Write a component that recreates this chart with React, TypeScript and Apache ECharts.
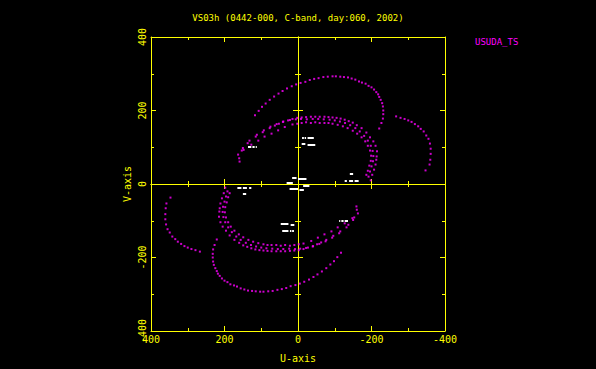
import React, { useEffect, useRef } from "react";
import * as echarts from "echarts";

const TITLE = "VS03h (0442-000, C-band, day:060, 2002)";
const LEGEND = "USUDA_TS";
const X_NAME = "U-axis";
const Y_NAME = "V-axis";
const AXIS_MIN = -400;
const AXIS_MAX = 400;
const LABEL_STEP = 200;

// Upper halves of the (u, v) tracks; the conjugate (-u, -v) points are added below.
const trackA: number[][] = [
  [117, 187], [107, 199], [98, 210], [88, 219], [77, 229], [65, 238], [53, 246], [42, 253],
  [30, 260], [17, 266], [5, 271], [-7, 275], [-20, 278], [-32, 283], [-44, 286], [-56, 288],
  [-69, 291], [-81, 292], [-94, 293], [-103, 293], [-115, 292], [-125, 291], [-136, 290],
  [-146, 287], [-156, 284], [-166, 279], [-174, 276], [-184, 273], [-192, 267], [-200, 263],
  [-207, 257], [-213, 250], [-218, 244], [-221, 237], [-225, 229], [-229, 220], [-231, 211],
  [-232, 200], [-232, 190], [-231, 178], [-227, 166], [-221, 151],
];
const trackB: number[][] = [
  [-267, 184], [-279, 180], [-290, 177], [-300, 173], [-309, 169], [-318, 163], [-327, 157],
  [-334, 150], [-342, 143], [-349, 132], [-355, 123], [-359, 110], [-361, 96], [-361, 82],
  [-360, 66], [-358, 53], [-347, 37],
];
const trackC1: number[][] = [
  [159, 61], [153, 91], [137, 111], [115, 129], [96, 141], [77, 152], [63, 159], [52, 164],
  [41, 169], [27, 173], [15, 177], [2, 180], [-10, 181], [-22, 182], [-35, 183], [-47, 183],
  [-59, 183], [-72, 183], [-83, 182], [-94, 181], [-105, 180], [-116, 178], [-127, 175],
  [-138, 171], [-149, 167], [-160, 160], [-173, 152], [-186, 140], [-196, 127], [-205, 116],
  [-211, 104], [-215, 89], [-214, 75], [-213, 66], [-211, 53], [-207, 39], [-202, 25], [-198, 10],
];
const trackC2: number[][] = [
  [163, 80], [148, 93], [127, 107], [108, 118], [91, 129], [72, 137], [54, 146], [36, 155],
  [15, 162], [2, 164], [-10, 166], [-22, 168], [-35, 166], [-47, 168], [-59, 166], [-72, 166],
  [-83, 166], [-94, 164], [-108, 161], [-122, 157], [-135, 152], [-149, 145], [-161, 137],
  [-173, 127], [-183, 116], [-190, 104], [-196, 91], [-199, 77], [-198, 63], [-194, 50],
  [-190, 36], [-186, 25],
];
const trackC3: number[][] = [
  [160, 70], [150, 98], [132, 118], [112, 134], [93, 146], [75, 156], [58, 163], [40, 170],
  [22, 174], [6, 176], [-8, 177], [-24, 176], [-40, 177], [-55, 177], [-70, 176], [-86, 175],
  [-100, 173], [-114, 170], [-128, 166], [-142, 160], [-156, 152], [-168, 143], [-180, 131],
  [-190, 118], [-198, 104], [-203, 90], [-205, 76], [-204, 62], [-200, 48], [-196, 34], [-192, 20],
];

// Short white track pieces: [uStart, uEnd, v] (upper half, conjugates added below)
const whiteSegments: number[][] = [
  [-11, -16, 127], [-18, -22, 127], [-26, -43, 127],
  [-10, -20, 110], [-26, -47, 107],
  [16, 4, 17], [0, -23, 14],
  [31, 14, 4],
  [136, 127, 101], [124, 118, 101], [115, 112, 101],
  [-141, -150, 27],
  [-127, -133, 9], [-139, -150, 9], [-154, -165, 9],
];

const withConjugates = (pts: number[][]) => pts.flatMap((p) => [p, [-p[0], -p[1]]]);

const magentaPoints = withConjugates([...trackA, ...trackB, ...trackC1, ...trackC2, ...trackC3]);
const whiteLines = whiteSegments.flatMap((s) => [
  { coords: [[s[0], s[2]], [s[1], s[2]]] },
  { coords: [[-s[0], -s[2]], [-s[1], -s[2]]] },
]);

const YELLOW = "#ffff00";
const MAGENTA = "#ff00ff";
const FONT = "DejaVu Sans Mono";

export default function App() {
  const ref = useRef<HTMLDivElement>(null);
  useEffect(() => {
    document.body.style.margin = "0";
    document.body.style.background = "#000";
    const chart = echarts.init(ref.current!, null, { renderer: "svg" });
    const common = {
      type: "value" as const,
      min: AXIS_MIN,
      max: AXIS_MAX,
      interval: LABEL_STEP,
      splitLine: { show: false },
      minorTick: { show: true, splitNumber: 2, length: 3, lineStyle: { color: YELLOW, width: 1 } },
      axisLine: { show: true, onZero: false, lineStyle: { color: YELLOW, width: 1 } },
      axisTick: { show: true, inside: true, length: 5, lineStyle: { color: YELLOW, width: 1 } },
      axisLabel: { show: false },
    };
    const labelStyle = { color: YELLOW, fontSize: 10, fontFamily: FONT };
    chart.setOption({
      animation: false,
      backgroundColor: "#000",
      title: {
        text: TITLE,
        left: "center",
        top: 8,
        textStyle: { color: YELLOW, fontSize: 9, fontWeight: "normal", fontFamily: FONT },
      },
      graphic: [
        {
          type: "text",
          left: 475,
          top: 37,
          style: { text: LEGEND, fill: MAGENTA, fontSize: 9, fontFamily: FONT },
        },
      ],
      grid: { left: 151, top: 37, width: 294, height: 294 },
      xAxis: [
        {
          ...common,
          position: "bottom",
          inverse: true,
          axisLabel: { show: true, margin: 3, ...labelStyle },
          name: X_NAME,
          nameLocation: "middle",
          nameGap: 22,
          nameTextStyle: { ...labelStyle },
        },
        { ...common, position: "top", inverse: true },
        {
          ...common,
          position: "bottom",
          inverse: true,
          axisLine: { show: true, onZero: true, lineStyle: { color: YELLOW, width: 1 } },
        },
        {
          ...common,
          position: "bottom",
          inverse: true,
          axisLine: { show: true, onZero: true, lineStyle: { color: YELLOW, width: 1 } },
          axisTick: { show: true, inside: false, length: 5, lineStyle: { color: YELLOW, width: 1 } },
        },
      ],
      yAxis: [
        {
          ...common,
          position: "left",
          axisLabel: { show: true, rotate: 90, margin: 4, ...labelStyle },
          name: Y_NAME,
          nameLocation: "middle",
          nameGap: 19,
          nameRotate: 90,
          nameTextStyle: { ...labelStyle },
        },
        { ...common, position: "right" },
        {
          ...common,
          position: "left",
          axisLine: { show: true, onZero: true, lineStyle: { color: YELLOW, width: 1 } },
        },
        {
          ...common,
          position: "left",
          axisLine: { show: true, onZero: true, lineStyle: { color: YELLOW, width: 1 } },
          axisTick: { show: true, inside: false, length: 5, lineStyle: { color: YELLOW, width: 1 } },
        },
      ],
      series: [
        {
          name: LEGEND,
          type: "scatter",
          xAxisIndex: 0,
          yAxisIndex: 0,
          data: magentaPoints,
          symbol: "rect",
          symbolSize: [2, 2],
          itemStyle: { color: MAGENTA },
        },
        {
          name: "short",
          type: "lines",
          coordinateSystem: "cartesian2d",
          xAxisIndex: 0,
          yAxisIndex: 0,
          data: whiteLines,
          lineStyle: { color: "#ffffff", width: 2, opacity: 1 },
        },
      ],
    });
    return () => chart.dispose();
  }, []);
  return (
    <div
      ref={ref}
      style={{ position: "absolute", left: 0, top: 0, width: 596, height: 369, background: "#000" }}
    />
  );
}
